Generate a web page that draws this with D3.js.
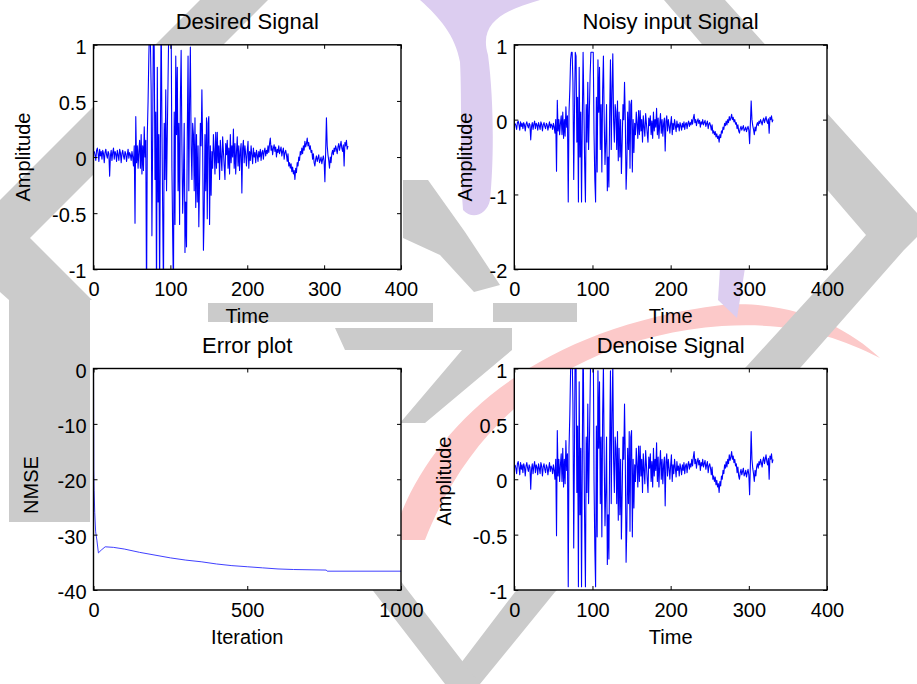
<!DOCTYPE html>
<html>
<head>
<meta charset="utf-8">
<script src="https://cdn.jsdelivr.net/npm/d3@7"></script>
<style>
  html, body { margin: 0; padding: 0; background: #fff; }
  svg { display: block; font-family: Arial, "Liberation Sans", sans-serif; }
</style>
</head>
<body>
<svg id="chart" width="917" height="684"></svg>
<script>
// samples 1..331
const desired = [
  .05,.02,-.03,.06,.08,.03,-.04,.07,.01,.05,
  -.02,.06,.03,-.05,.04,.07,.02,-.01,.05,.03,
  -.17,.01,.06,-.03,.04,.08,-.02,.05,.03,-.04,
  .06,.02,-.03,.07,.04,-.05,.03,.06,.01,-.02,
  .05,.03,-.04,.02,.07,-.01,.04,.02,-.03,.05,
  0,-.08,.1,-.59,.36,-.05,.1,-.1,.05,.15,
  -.1,.2,-.15,.1,-.12,.27,0,.15,-1.3,.2,
  .5,.9,1.2,1.05,.6,-.7,.2,1.3,.95,-.2,
  .4,-1.3,.8,-.4,.2,-1.2,.1,1.3,.3,-.5,
  -1.2,.3,-.2,.6,-.3,.2,.7,1.2,1.3,1.1,
  1.2,-.1,-.7,-1.2,.4,-.6,.9,.2,.8,-.3,
  .3,-.6,.5,.95,.1,-.5,-.2,.3,-.85,-.4,
  -.8,.2,.9,-.3,.5,.98,.1,-.2,.3,.2,
  -.3,.35,-.45,.2,-.4,.1,-.62,-.2,.3,.1,
  .6,.1,-.83,-.5,.2,-.3,.35,-.55,.3,.36,
  -.6,.1,-.34,.05,-.1,.2,.05,-.15,.22,-.1,
  .22,-.05,.1,-.2,.15,0,-.12,.18,.05,-.08,
  -.2,.12,.02,.15,-.1,.08,-.15,.2,-.05,.1,
  0,.25,-.1,.12,-.15,.05,.18,-.08,.1,-.12,
  .05,.12,-.32,.08,.15,-.05,.1,.02,-.08,.05,
  .14,-.1,.05,-.03,.1,.02,-.06,.08,0,.04,
  -.05,.06,.02,-.04,.05,0,.07,-.03,.04,.06,
  -.02,.05,.08,.01,.06,.03,.1,.04,.12,.17,
  .06,.1,.02,.08,.11,.05,.09,0,.07,.04,
  .1,.03,.06,.09,.01,.05,.08,-.02,.04,.06,
  .02,-.04,.03,-.08,-.05,-.1,-.06,-.13,-.09,-.15,
  -.12,-.2,-.1,-.14,-.05,-.08,0,-.03,.05,.02,
  .08,.03,.1,.06,.14,.09,.12,.17,.1,.13,
  .07,.1,.04,.06,-.02,.03,-.05,-.08,-.02,.01,
  -.04,-.01,.02,-.05,-.03,0,-.06,-.02,.01,-.04,
  -.22,.05,.35,.1,.02,-.03,-.1,0,-.05,.03,
  .06,.02,.08,.05,.1,.07,.03,.09,.12,.06,
  .1,.14,.08,.05,.11,-.08,.13,.1,.15,.07,
  .1
]

const noisy = [
  -.05,-.08,-.13,-.04,-.02,-.07,-.14,-.03,-.09,-.05,
  -.12,-.04,-.07,-.15,-.06,-.03,-.08,-.11,-.05,-.07,
  -.27,-.09,-.04,-.13,-.06,-.02,-.12,-.05,-.07,-.14,
  -.04,-.08,-.13,-.03,-.06,-.15,-.07,-.04,-.09,-.12,
  -.05,-.07,-.14,-.08,-.03,-.11,-.06,-.08,-.13,-.05,
  -.1,-.18,0,-.69,.26,-.15,0,-.2,-.05,.05,
  -.2,.1,-.25,0,-.22,.17,-.1,.05,-1.1,.1,
  .4,.8,.9,.9,.5,-.8,.1,.9,.85,-.3,
  .3,-1.1,.7,-.5,.1,-1.1,0,.9,.2,-.6,
  -1.1,.2,-.3,.5,-.4,.1,.6,.9,.9,.9,
  .9,-.2,-.8,-1.1,.3,-.7,.8,.1,.7,-.4,
  .2,-.7,.4,.85,0,-.6,-.3,.2,-.95,-.5,
  -.9,.1,.8,-.4,.4,.88,0,-.3,.2,.1,
  -.4,.25,-.55,.1,-.5,0,-.72,-.3,.2,0,
  .5,0,-.93,-.6,.1,-.4,.25,-.65,.2,.26,
  -.7,0,-.44,-.05,-.2,.1,-.05,-.25,.12,-.2,
  .12,-.15,0,-.3,.05,-.1,-.22,.08,-.05,-.18,
  -.3,.02,-.08,.05,-.2,-.02,-.25,.1,-.15,0,
  -.1,.15,-.2,.02,-.25,-.05,.08,-.18,0,-.22,
  -.05,.02,-.42,-.02,.05,-.15,0,-.08,-.18,-.05,
  .04,-.2,-.05,-.13,0,-.08,-.16,-.02,-.1,-.06,
  -.15,-.04,-.08,-.14,-.05,-.1,-.03,-.13,-.06,-.04,
  -.12,-.05,-.02,-.09,-.04,-.07,0,-.06,.02,.07,
  -.04,0,-.08,-.02,.01,-.05,-.01,-.1,-.03,-.06,
  0,-.07,-.04,-.01,-.09,-.05,-.02,-.12,-.06,-.04,
  -.08,-.14,-.07,-.18,-.15,-.2,-.16,-.23,-.19,-.25,
  -.22,-.3,-.2,-.24,-.15,-.18,-.1,-.13,-.05,-.08,
  -.02,-.07,0,-.04,.04,-.01,.02,.07,0,.03,
  -.03,0,-.06,-.04,-.12,-.07,-.15,-.18,-.12,-.09,
  -.14,-.11,-.08,-.15,-.13,-.1,-.16,-.12,-.09,-.14,
  -.32,-.05,.25,0,-.08,-.13,-.2,-.1,-.15,-.07,
  -.04,-.08,-.02,-.05,0,-.03,-.07,-.01,.02,-.04,
  0,.04,-.02,-.05,.01,-.18,.03,0,.05,-.03,
  0
]

const denoised = [
  .13,.1,.05,.14,.16,.11,.04,.15,.09,.13,
  .06,.14,.11,.03,.12,.15,.1,.07,.13,.11,
  -.09,.09,.14,.05,.12,.16,.06,.13,.11,.04,
  .14,.1,.05,.15,.12,.03,.11,.14,.09,.06,
  .13,.11,.04,.1,.15,.07,.12,.1,.05,.13,
  .08,0,.18,-.51,.44,.03,.18,-.02,.13,.23,
  -.02,.28,-.07,.18,-.04,.35,.08,.23,-.97,.28,
  .58,.98,1.28,1.13,.68,-.62,.28,1.38,1.03,-.12,
  .48,-.97,.88,-.32,.28,-.97,.18,1.38,.38,-.42,
  -.97,.38,-.12,.68,-.22,.28,.78,1.28,1.38,1.18,
  1.28,-.02,-.62,-.97,.48,-.52,.98,.28,.88,-.22,
  .38,-.52,.58,1.03,.18,-.42,-.12,.38,-.77,-.32,
  -.72,.28,.98,-.22,.58,1.06,.18,-.12,.38,.28,
  -.22,.43,-.37,.28,-.32,.18,-.54,-.12,.38,.18,
  .68,.18,-.75,-.42,.28,-.22,.43,-.47,.38,.44,
  -.52,.18,-.26,.13,-.02,.28,.13,-.07,.3,-.02,
  .3,.03,.18,-.12,.23,.08,-.04,.26,.13,0,
  -.12,.2,.1,.23,-.02,.16,-.07,.28,.03,.18,
  .08,.33,-.02,.2,-.07,.13,.26,0,.18,-.04,
  .13,.2,-.24,.16,.23,.03,.18,.1,0,.13,
  .22,-.02,.13,.05,.18,.1,.02,.16,.08,.12,
  .03,.14,.1,.04,.13,.08,.15,.05,.12,.14,
  .06,.13,.16,.09,.14,.11,.18,.12,.2,.25,
  .14,.18,.1,.16,.19,.13,.17,.08,.15,.12,
  .18,.11,.14,.17,.09,.13,.16,.06,.12,.14,
  .1,.04,.11,0,.03,-.02,.02,-.05,-.01,-.07,
  -.04,-.12,-.02,-.06,.03,0,.08,.05,.13,.1,
  .16,.11,.18,.14,.22,.17,.2,.25,.18,.21,
  .15,.18,.12,.14,.06,.11,.03,0,.06,.09,
  .04,.07,.1,.03,.05,.08,.02,.06,.09,.04,
  -.14,.13,.43,.18,.1,.05,-.02,.08,.03,.11,
  .14,.1,.16,.13,.18,.15,.11,.17,.2,.14,
  .18,.22,.16,.13,.19,0,.21,.18,.23,.15,
  .18
]

const errIteration = [0, 1, 2, 4, 7, 11, 16, 25, 38, 65, 100, 150, 200, 250, 300, 350, 400, 450, 500, 550, 600, 650, 757, 760, 1000]
const errNmse = [0, -18.3, -22, -26, -29.5, -31, -33.3, -32.8, -32.2, -32.3, -32.6, -33.2, -33.7, -34.2, -34.6, -34.9, -35.3, -35.6, -35.8, -36, -36.2, -36.3, -36.4, -36.6, -36.6]

const timeTicks = [0, 100, 200, 300, 400]
const unitTicks = [-1, -0.5, 0, 0.5, 1]
const noisyTicks = [-2, -1, 0, 1]
const iterTicks = [0, 500, 1000]
const nmseTicks = [-40, -30, -20, -10, 0]

// faint watermark sitting behind the figure
const grayShapes = [
  'M200,0 L268,0 L30,238 L0,238 L0,200 Z',
  'M0,238 L30,238 L92,300 L90,300 L90,522 L9,522 L9,300 L0,292 Z',
  'M403,180 L428,180 L465,232 L500,285 L474,292 L440,255 L403,238 Z',
  'M208,303 H433 V322 H208 Z',
  'M493,303 H577 V322 H493 Z',
  'M335,328 H512 V350 L425,423 H400 L462,350 H345 Z',
  'M664,0 L725,0 L917,213 L917,237 L904,250 L801,367 L555,592 L480,684 L445,684 L515,592 L746,367 L853,250 L866,235 Z',
  'M200,368 L240,368 L409,592 L480,684 L445,684 L374,592 Z'
]
const pinkShape = 'M392,540 C420,440 520,330 722,305 C790,300 845,325 880,358 C835,335 790,322 722,326 C565,338 470,425 425,540 Z'
const purpleShapes = [
  'M420,0 L540,0 C505,10 478,22 488,55 C494,100 494,160 490,200 C487,215 472,220 463,210 C460,160 462,100 460,62 C455,35 440,18 420,0 Z',
  'M720,268 L745,268 L737,318 L718,300 Z'
]

const svg = d3.select('#chart')
const bg = svg.append('g')

bg.append('path').attr('d', pinkShape).attr('fill', '#fcc9c9')
bg.selectAll('path.gray')
  .data(grayShapes)
  .join('path')
    .attr('class', 'gray')
    .attr('d', d => d)
    .attr('fill', '#cbcbcb')
bg.selectAll('path.purple')
  .data(purpleShapes)
  .join('path')
    .attr('class', 'purple')
    .attr('d', d => d)
    .attr('fill', '#dccdf0')

const fmt = d => String(d)

function drawPanel (opt) {
  const g = svg.append('g')
  const x = d3.scaleLinear().domain(opt.xDomain).range([opt.left, opt.right])
  const y = d3.scaleLinear().domain(opt.yDomain).range([opt.bottom, opt.top])
  const w = opt.right - opt.left
  const h = opt.bottom - opt.top

  g.append('rect')
    .attr('x', opt.left).attr('y', opt.top)
    .attr('width', w).attr('height', h)
    .attr('fill', '#fff')

  g.append('clipPath').attr('id', opt.id)
    .append('rect')
      .attr('x', opt.left).attr('y', opt.top)
      .attr('width', w).attr('height', h)

  const line = d3.line()
    .x(d => x(d[0]))
    .y(d => y(d[1]))

  g.append('path')
    .datum(opt.xs.map((v, i) => [v, opt.ys[i]]))
    .attr('clip-path', `url(#${opt.id})`)
    .attr('fill', 'none')
    .attr('stroke', opt.color)
    .attr('stroke-width', opt.lineWidth)
    .attr('stroke-linejoin', 'round')
    .attr('d', line)

  const styleAxis = sel => {
    sel.select('.domain').remove()
    sel.selectAll('line').attr('stroke', '#000')
    sel.selectAll('text')
      .attr('fill', '#000')
      .style('font-size', '20px')
      .style('font-family', 'Arial, "Liberation Sans", sans-serif')
  }

  g.append('g')
    .attr('transform', `translate(0,${opt.bottom})`)
    .call(d3.axisBottom(x).tickValues(opt.xTicks).tickFormat(fmt).tickSizeInner(-4).tickSizeOuter(0).tickPadding(13))
    .call(styleAxis)
  g.append('g')
    .attr('transform', `translate(0,${opt.top})`)
    .call(d3.axisTop(x).tickValues(opt.xTicks).tickFormat('').tickSizeInner(-4).tickSizeOuter(0))
    .call(styleAxis)
  g.append('g')
    .attr('transform', `translate(${opt.left},0)`)
    .call(d3.axisLeft(y).tickValues(opt.yTicks).tickFormat(fmt).tickSizeInner(-4).tickSizeOuter(0).tickPadding(7))
    .call(styleAxis)
    .call(a => a.selectAll('text').attr('dy', '0.43em'))
  g.append('g')
    .attr('transform', `translate(${opt.right},0)`)
    .call(d3.axisRight(y).tickValues(opt.yTicks).tickFormat('').tickSizeInner(-4).tickSizeOuter(0))
    .call(styleAxis)

  g.append('rect')
    .attr('x', opt.left).attr('y', opt.top)
    .attr('width', w).attr('height', h)
    .attr('fill', 'none')
    .attr('stroke', '#000')
    .attr('stroke-width', 1.4)

  const cx = (opt.left + opt.right) / 2
  g.append('text')
    .attr('x', cx).attr('y', opt.top - 15.6)
    .attr('text-anchor', 'middle')
    .style('font-size', '22px')
    .text(opt.title)
  g.append('text')
    .attr('x', cx).attr('y', opt.bottom + 54)
    .attr('text-anchor', 'middle')
    .style('font-size', '20px')
    .text(opt.xLabel)
  g.append('text')
    .attr('transform', `translate(${opt.yLabelX},${opt.yLabelY}) rotate(-90)`)
    .attr('text-anchor', 'middle')
    .style('font-size', '20px')
    .text(opt.yLabel)
}

const sampleIndex = desired.map((d, i) => i + 1)

drawPanel({
  id: 'clip-desired', left: 93.5, right: 401, top: 44.8, bottom: 269.3,
  xDomain: [0, 400], yDomain: [-1, 1], xTicks: timeTicks, yTicks: unitTicks,
  title: 'Desired Signal', xLabel: 'Time', yLabel: 'Amplitude', yLabelX: 29.5, yLabelY: 157,
  xs: sampleIndex, ys: desired, color: '#0000ff', lineWidth: 1.1
})

drawPanel({
  id: 'clip-noisy', left: 514.3, right: 827, top: 44.8, bottom: 269.3,
  xDomain: [0, 400], yDomain: [-2, 1], xTicks: timeTicks, yTicks: noisyTicks,
  title: 'Noisy input Signal', xLabel: 'Time', yLabel: 'Amplitude', yLabelX: 471.5, yLabelY: 157,
  xs: sampleIndex, ys: noisy, color: '#0000ff', lineWidth: 1.1
})

drawPanel({
  id: 'clip-error', left: 93.5, right: 401, top: 368.5, bottom: 590,
  xDomain: [0, 1000], yDomain: [-40, 0], xTicks: iterTicks, yTicks: nmseTicks,
  title: 'Error plot', xLabel: 'Iteration', yLabel: 'NMSE', yLabelX: 38, yLabelY: 485,
  xs: errIteration, ys: errNmse, color: '#2a2aff', lineWidth: 0.9
})

drawPanel({
  id: 'clip-denoise', left: 514.3, right: 827, top: 368.5, bottom: 590,
  xDomain: [0, 400], yDomain: [-1, 1], xTicks: timeTicks, yTicks: unitTicks,
  title: 'Denoise Signal', xLabel: 'Time', yLabel: 'Amplitude', yLabelX: 451, yLabelY: 481,
  xs: sampleIndex, ys: denoised, color: '#0000ff', lineWidth: 1.1
})
</script>
</body>
</html>
